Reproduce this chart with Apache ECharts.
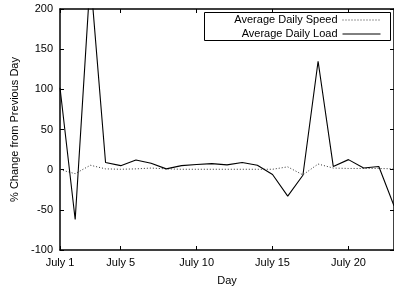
<!DOCTYPE html>
<html>
<head>
<meta charset="utf-8">
<script src="https://cdn.jsdelivr.net/npm/echarts@6/dist/echarts.min.js"></script>
<style>
  html, body { margin: 0; padding: 0; background: #fff; }
  #chart { width: 394px; height: 291px; }
</style>
</head>
<body>
<div id="chart"></div>
<script>
// days on the x axis
const days = ['July 1', 'July 2', 'July 3', 'July 4', 'July 5', 'July 6', 'July 7', 'July 8',
  'July 9', 'July 10', 'July 11', 'July 12', 'July 13', 'July 14', 'July 15', 'July 16',
  'July 17', 'July 18', 'July 19', 'July 20', 'July 21', 'July 22', 'July 23']
// labelled days (index)
const labelDays = [0, 4, 9, 14, 19]
// % change from previous day
const speed = [0, -5, 5.5, 1, 0.5, 1, 2, 1, 0.5, 0.5, 0.5, 0.5, 0.5, 0.5, 0.5, 3.5, -6.5, 7, 2, 1.5, 1.5, 1.5, 1]
const load = [102, -62, 240, 9, 5, 12, 8, 1, 5, 6.5, 7.5, 6, 9, 5.5, -6, -33, -7, 135, 4, 12.5, 2, 4, -45]

const font = 'Liberation Sans, Arial, Helvetica, sans-serif'
const showDay = (i) => labelDays.indexOf(i) >= 0

const axisLine = { show: true, onZero: false, lineStyle: { color: '#000', width: 1.5 } }
const tick = { show: true, inside: true, length: 4, lineStyle: { color: '#000' } }
const legendBase = {
  right: 13, padding: 0, align: 'right',
  itemWidth: 38, itemHeight: 8,
  itemStyle: { opacity: 0 },
  lineStyle: { width: 1 },
  textStyle: { fontFamily: font, fontSize: 11, color: '#000' }
}

const chart = echarts.init(document.getElementById('chart'))
chart.setOption({
  animation: false,
  grid: { left: 60, top: 9, right: -3, bottom: 40 },
  legend: [
    Object.assign({ data: ['Average Daily Speed'], top: 14.5 }, legendBase),
    Object.assign({ data: ['Average Daily Load'], top: 28.5 }, legendBase)
  ],
  graphic: [{
    type: 'rect',
    shape: { x: 204.5, y: 12.5, width: 186, height: 28 },
    style: { fill: '#fff', stroke: '#000', lineWidth: 1 },
    z: 0
  }],
  xAxis: [
    {
      type: 'category',
      data: days,
      boundaryGap: false,
      name: 'Day',
      nameLocation: 'middle',
      nameGap: 25,
      nameTextStyle: { fontFamily: font, fontSize: 11, color: '#000' },
      axisLine: axisLine,
      axisTick: Object.assign({ interval: showDay }, tick),
      axisLabel: { interval: showDay, margin: 7, fontFamily: font, fontSize: 11, color: '#000' },
      splitLine: { show: false }
    },
    {
      type: 'category',
      data: days,
      boundaryGap: false,
      position: 'top',
      axisLine: axisLine,
      axisTick: Object.assign({ interval: showDay }, tick),
      axisLabel: { show: false },
      splitLine: { show: false }
    }
  ],
  yAxis: [
    {
      type: 'value',
      min: -100,
      max: 200,
      interval: 50,
      name: '% Change from Previous Day',
      nameLocation: 'middle',
      nameGap: 40,
      nameTextStyle: { fontFamily: font, fontSize: 11, color: '#000' },
      axisLine: axisLine,
      axisTick: tick,
      axisLabel: { margin: 7, fontFamily: font, fontSize: 11, color: '#000' },
      splitLine: { show: false }
    },
    {
      type: 'value',
      min: -100,
      max: 200,
      interval: 50,
      position: 'right',
      axisLine: axisLine,
      axisTick: tick,
      axisLabel: { show: false },
      splitLine: { show: false }
    }
  ],
  series: [
    {
      name: 'Average Daily Speed',
      type: 'line',
      data: speed,
      symbol: 'none',
      color: '#000',
      lineStyle: { color: '#333', width: 1, type: [1, 2] }
    },
    {
      name: 'Average Daily Load',
      type: 'line',
      data: load,
      symbol: 'none',
      color: '#000',
      lineStyle: { color: '#000', width: 1.1 }
    }
  ]
})
</script>
</body>
</html>
